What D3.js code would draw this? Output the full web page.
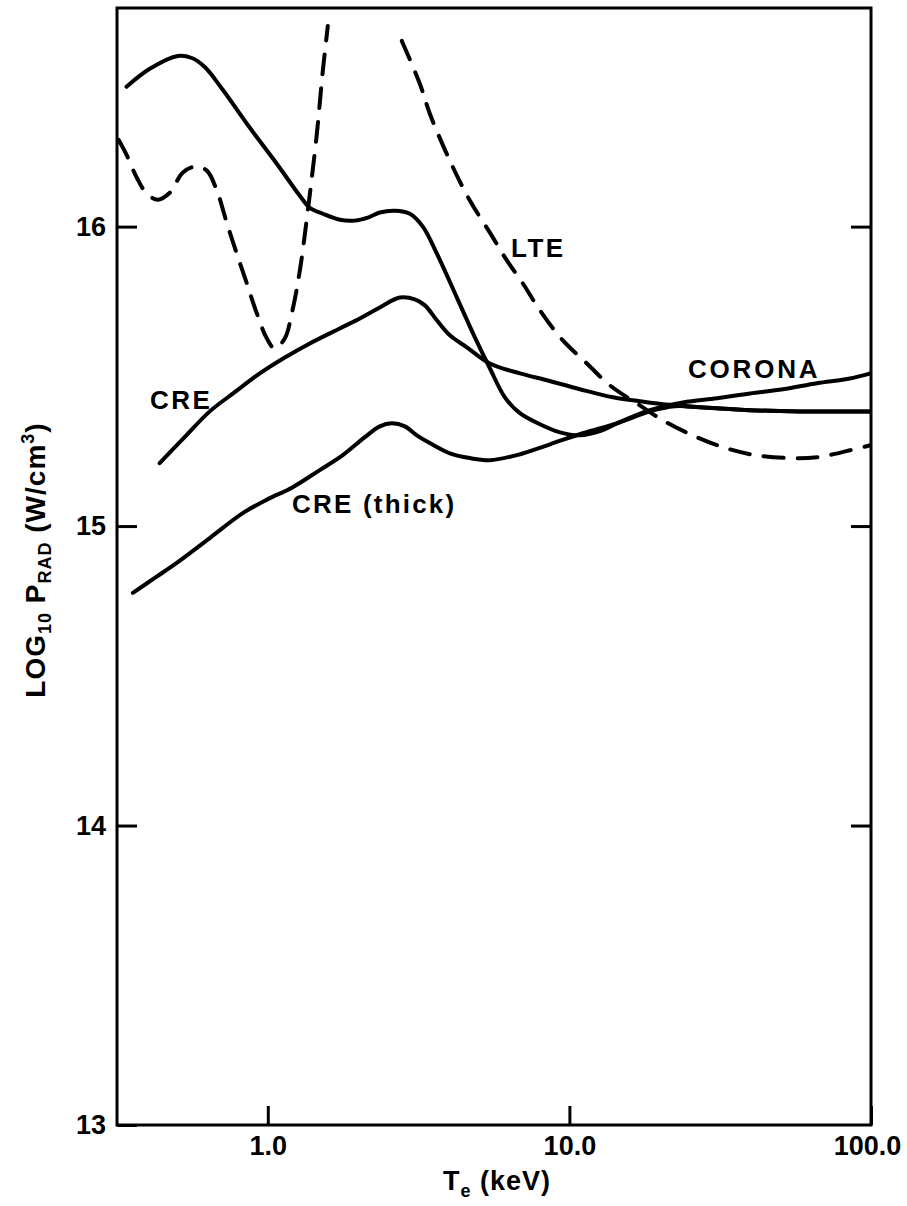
<!DOCTYPE html>
<html>
<head>
<meta charset="utf-8">
<script src="https://cdn.jsdelivr.net/npm/d3@7"></script>
<style>
  html, body { margin: 0; padding: 0; background: #fff; }
  svg text { font-family: "Liberation Sans", Arial, Helvetica, sans-serif; font-weight: bold; fill: #000; }
</style>
</head>
<body>
<svg id="chart" width="907" height="1206"></svg>
<script>
// ---- data (T in keV, log10 P_rad in W/cm^3) ----
const coronaT = [0.340,0.406,0.503,0.560,0.618,0.709,0.872,1.071,1.277,1.378,1.522,1.733,1.943,2.146,2.352,2.638,2.958,3.266,3.636,4.236,4.860,5.449,6.111,6.853,7.984,9.301,10.83,12.63,14.37,18.49,23.79,30.85,39.69,51.07,66.22,85.20,99.5];
const coronaP = [16.467,16.527,16.570,16.563,16.533,16.457,16.330,16.210,16.103,16.063,16.043,16.023,16.020,16.030,16.047,16.053,16.043,16.000,15.910,15.763,15.630,15.527,15.430,15.377,15.340,15.313,15.303,15.317,15.343,15.387,15.413,15.427,15.443,15.457,15.477,15.493,15.510];

const creT = [0.438,0.530,0.642,0.777,0.941,1.139,1.378,1.733,2.019,2.352,2.741,3.073,3.318,3.636,4.015,4.571,5.449,6.853,8.423,10.83,13.94,17.13,20.42,27.09,39.69,58.15,99.5];
const creP = [15.210,15.297,15.383,15.447,15.510,15.563,15.610,15.660,15.693,15.730,15.763,15.757,15.737,15.687,15.637,15.597,15.543,15.510,15.487,15.457,15.430,15.417,15.407,15.397,15.387,15.383,15.383];

const thickT = [0.357,0.422,0.499,0.642,0.826,1.0,1.210,1.487,1.773,2.098,2.352,2.578,2.848,3.120,3.446,4.015,4.677,5.449,6.698,8.616,11.08,14.37,18.49,22.38,27.09,39.69,58.15,99.5];
const thickP = [14.777,14.827,14.877,14.960,15.043,15.090,15.130,15.187,15.237,15.297,15.333,15.343,15.333,15.303,15.277,15.243,15.227,15.220,15.237,15.273,15.310,15.343,15.383,15.400,15.397,15.387,15.383,15.383];

const lteLowT = [0.320,0.340,0.368,0.397,0.432,0.473,0.522,0.573,0.628,0.678,0.731,0.789,0.852,0.920,0.992,1.055,1.139,1.201,1.277,1.357,1.454,1.522,1.581];
const lteLowP = [16.290,16.240,16.163,16.110,16.090,16.113,16.180,16.200,16.187,16.120,16.013,15.910,15.810,15.710,15.627,15.593,15.627,15.710,15.853,16.053,16.310,16.520,16.670];

const lteHighT = [2.782,3.192,3.446,4.015,4.677,5.449,6.205,7.013,7.984,9.516,11.43,13.62,17.13,20.42,25.11,30.85,39.69,53.86,66.22,85.20,99.5];
const lteHighP = [16.620,16.477,16.377,16.220,16.087,15.980,15.887,15.810,15.720,15.620,15.543,15.470,15.403,15.353,15.307,15.270,15.240,15.227,15.230,15.253,15.270];

const xTicks = [1, 10, 100];
const yTicksLeft = [13, 14, 15, 16];
const yTicksRight = [14, 15, 16];

// ---- layout ----
const L = 117, R = 871, T = 8, B = 1125;
const svg = d3.select("#chart");

const x = d3.scaleLog().domain([Math.pow(10, -0.5), 100]).range([L, R]);
const y = d3.scaleLinear().domain([13, 16.73]).range([B, T]);

const line = d3.line()
  .x(d => x(d[0]))
  .y(d => y(d[1]))
  .curve(d3.curveCatmullRom.alpha(0.5));

const zip = (a, b) => a.map((v, i) => [v, b[i]]);

// clip to plot frame
svg.append("clipPath").attr("id", "clip")
  .append("rect").attr("x", L).attr("y", T).attr("width", R - L).attr("height", B - T);

const g = svg.append("g").attr("clip-path", "url(#clip)");

const series = [
  { d: zip(coronaT, coronaP), dash: null },
  { d: zip(creT, creP), dash: null },
  { d: zip(thickT, thickP), dash: null },
  { d: zip(lteLowT, lteLowP), dash: "20,14" },
  { d: zip(lteHighT, lteHighP), dash: "20,14" }
];

g.selectAll("path.curve").data(series).enter().append("path")
  .attr("class", "curve")
  .attr("d", s => line(s.d))
  .attr("fill", "none")
  .attr("stroke", "#000")
  .attr("stroke-width", 4)
  .attr("stroke-linecap", "round")
  .attr("stroke-linejoin", "round")
  .attr("stroke-dasharray", s => s.dash);

// axes
const axL = d3.axisLeft(y).tickValues(yTicksLeft).tickSize(-20).tickPadding(11).tickFormat(d3.format("d"));
const axR = d3.axisRight(y).tickValues(yTicksRight).tickSize(-20).tickFormat("");
const axB = d3.axisBottom(x).tickValues(xTicks).tickSize(-19).tickPadding(11).tickFormat(d => d.toFixed(1));

function styleAxis(sel) {
  sel.select(".domain").remove();
  sel.selectAll(".tick line").attr("stroke", "#000").attr("stroke-width", 3);
  sel.selectAll(".tick text").attr("font-size", 27).attr("font-family", null).style("font-weight", "bold");
}

svg.append("g").attr("transform", `translate(${L},0)`).call(axL).call(styleAxis);
svg.append("g").attr("transform", `translate(${R},0)`).call(axR).call(styleAxis);
const gb = svg.append("g").attr("transform", `translate(0,${B})`).call(axB).call(styleAxis);
gb.selectAll(".tick text").attr("dx", d => d === 100 ? -4 : 0);

// frame
svg.append("rect").attr("x", L).attr("y", T).attr("width", R - L).attr("height", B - T)
  .attr("fill", "none").attr("stroke", "#000").attr("stroke-width", 3);

// curve labels
const labels = [
  { t: "CRE", x: 150, y: 409, ls: 2.5 },
  { t: "CRE (thick)", x: 292, y: 513, ls: 2.2 },
  { t: "LTE", x: 511, y: 257, ls: 2.5 },
  { t: "CORONA", x: 688, y: 378, ls: 2.8 }
];
svg.selectAll("text.lbl").data(labels).enter().append("text")
  .attr("class", "lbl")
  .attr("x", d => d.x).attr("y", d => d.y)
  .attr("font-size", 26)
  .attr("letter-spacing", d => d.ls)
  .text(d => d.t);

// x axis title
const xt = svg.append("text").attr("x", 497).attr("y", 1190).attr("text-anchor", "middle").attr("font-size", 27).attr("letter-spacing", 1);
xt.append("tspan").text("T");
xt.append("tspan").attr("font-size", 18).attr("dy", 7).text("e");
xt.append("tspan").attr("dy", -7).text(" (keV)");

// y axis title
const yt = svg.append("text")
  .attr("transform", "translate(45,560) rotate(-90)")
  .attr("text-anchor", "middle").attr("font-size", 28).attr("letter-spacing", 1);
yt.append("tspan").text("LOG");
yt.append("tspan").attr("font-size", 18).attr("dy", 6).text("10");
yt.append("tspan").attr("dy", -6).text(" P");
yt.append("tspan").attr("font-size", 18).attr("dy", 6).text("RAD");
yt.append("tspan").attr("dy", -6).text(" (W/cm");
yt.append("tspan").attr("font-size", 18).attr("dy", -11).text("3");
yt.append("tspan").attr("dy", 11).text(")");
</script>
</body>
</html>
